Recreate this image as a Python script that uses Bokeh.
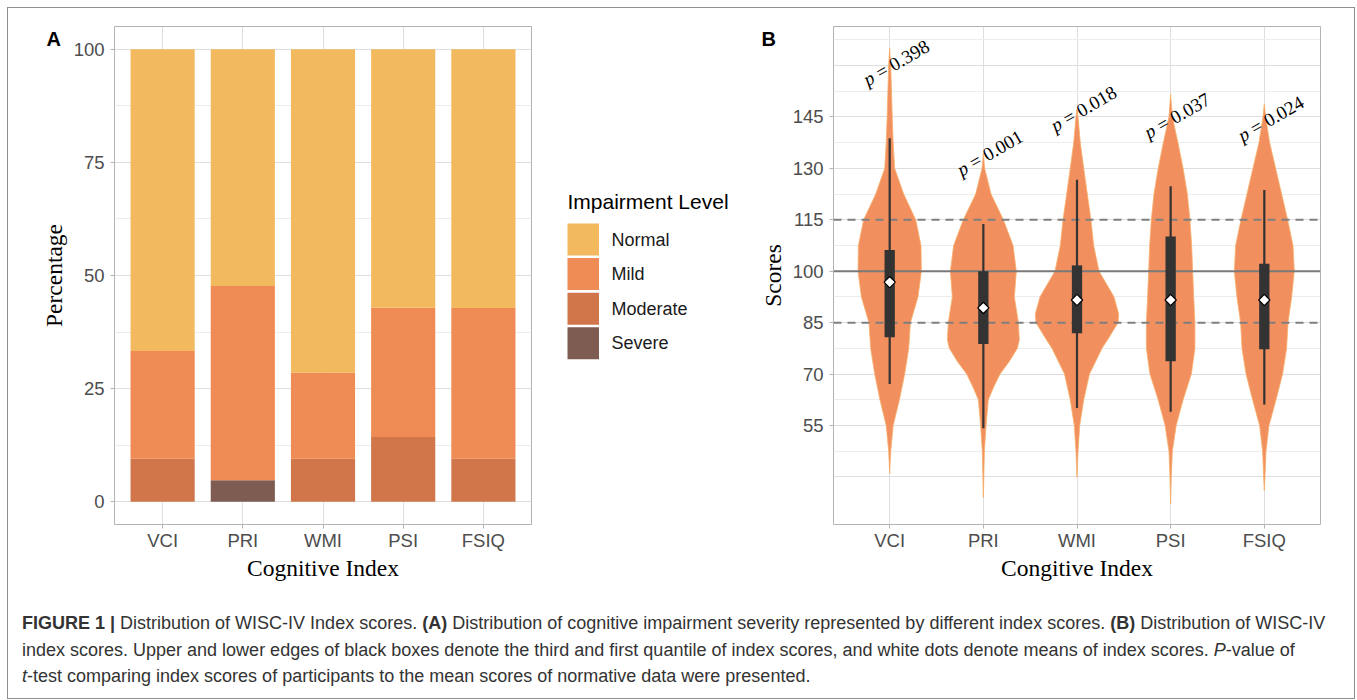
import math
from bokeh.plotting import figure
from bokeh.models import Range1d, FixedTicker, Div
from bokeh.layouts import row, column
from bokeh.embed import file_html
from bokeh.resources import INLINE
from bokeh.core.properties import value

# ---------------- data ----------------
indices = ["VCI", "PRI", "WMI", "PSI", "FSIQ"]
positions = [1, 2, 3, 4, 5]

# Panel A: percentage of participants per impairment level
pct_severe = [0.0, 4.8, 0.0, 0.0, 0.0]
pct_moderate = [9.5, 0.0, 9.5, 14.3, 9.5]
pct_mild = [23.8, 42.9, 19.0, 28.6, 33.3]
pct_normal = [66.7, 52.3, 71.5, 57.1, 57.2]
level_names = ["Normal", "Mild", "Moderate", "Severe"]
level_colors = ["#F3B95F", "#EF8B54", "#D0764A", "#7E5C52"]
legend_title = "Impairment Level"

# Panel B: box summaries
whisker_lo = [67.1, 54.2, 60.1, 59.0, 61.1]
box_q1 = [80.7, 78.8, 81.9, 73.7, 77.2]
box_q3 = [106.2, 100.0, 101.7, 110.1, 102.2]
whisker_hi = [138.8, 113.8, 126.7, 124.8, 123.7]
score_means = [96.8, 89.3, 91.6, 91.6, 91.6]
p_values = ["0.398", "0.001", "0.018", "0.037", "0.024"]
p_label_y = [160.8, 134.5, 147.4, 145.4, 144.5]
norm_mean = 100
norm_band = [85, 115]

# Panel B: violin outlines (score level, half-width in category units)
vci_lv = [40.9, 47.5, 55, 62.5, 70, 77.5, 85, 92.5, 100, 107.5, 115, 122.5, 130, 137.5, 145, 152.5, 160, 165]
vci_hw = [0, .011, .037, .104, .16, .203, .221, .302, .338, .334, .278, .149, .053, .037, .027, .019, .011, 0]
pri_lv = [34, 40, 47.5, 55, 62.5, 66, 70, 73.7, 77.5, 80, 85, 92.5, 100, 107.5, 115, 122.5, 130, 134.3]
pri_hw = [0, .005, .011, .029, .053, .107, .178, .278, .363, .384, .374, .331, .352, .317, .214, .082, .014, 0]
wmi_lv = [39.9, 47.5, 55, 62.5, 70, 77.5, 80.5, 85, 87.5, 92.5, 95, 100, 107.5, 115, 122.5, 130, 137.5, 145, 147.4]
wmi_hw = [0, .011, .029, .072, .133, .267, .338, .438, .445, .395, .342, .235, .178, .149, .11, .072, .035, .011, 0]
psi_lv = [32.1, 40, 47.5, 55, 62.5, 70, 77.5, 85, 92.5, 100, 107.5, 115, 122.5, 130, 137.5, 145, 151.6]
psi_hw = [0, .007, .018, .059, .133, .221, .259, .259, .246, .235, .224, .206, .178, .133, .078, .018, 0]
fsiq_lv = [36, 40, 47.5, 55, 62.5, 70, 77.5, 85, 92.5, 100, 107.5, 115, 122.5, 130, 137.5, 145, 148.8]
fsiq_hw = [0, .007, .018, .05, .125, .195, .238, .253, .292, .32, .306, .249, .185, .121, .057, .014, 0]
violin_levels = [vci_lv, pri_lv, wmi_lv, psi_lv, fsiq_lv]
violin_halfwidths = [vci_hw, pri_hw, wmi_hw, psi_hw, fsiq_hw]

# ---------------- styling helpers ----------------
SANS = "Liberation Sans"
SERIF = "Liberation Serif"
TICK_COLOR = "#4D4D4D"
BORDER = "#B3B3B3"
GRID_MAJOR = "#DEDEDE"
GRID_MINOR = "#ECECEC"


def style(p, xlabel, ylabel):
    p.background_fill_color = "white"
    p.border_fill_color = "white"
    p.outline_line_color = BORDER
    p.outline_line_width = 1
    for ax in (p.xaxis[0], p.yaxis[0]):
        ax.axis_line_color = None
        ax.major_tick_line_color = BORDER
        ax.major_tick_out = 4
        ax.major_tick_in = 0
        ax.minor_tick_line_color = None
        ax.major_label_text_font = SANS
        ax.major_label_text_font_size = "18.5px"
        ax.major_label_text_color = TICK_COLOR
        ax.axis_label_text_font = SERIF
        ax.axis_label_text_font_size = "23.5px"
        ax.axis_label_text_font_style = "normal"
        ax.axis_label_text_color = "black"
    p.xaxis[0].axis_label = xlabel
    p.yaxis[0].axis_label = ylabel
    p.xaxis[0].major_label_standoff = 1
    p.xaxis[0].axis_label_standoff = 1
    p.yaxis[0].major_label_standoff = 6
    p.yaxis[0].axis_label_standoff = 4
    xt = FixedTicker(ticks=positions, minor_ticks=[])
    p.xaxis[0].ticker = xt
    p.xaxis[0].major_label_overrides = {k: v for k, v in zip(positions, indices)}
    p.xgrid[0].ticker = xt
    p.xgrid[0].grid_line_color = GRID_MAJOR
    p.ygrid[0].grid_line_color = GRID_MAJOR
    p.ygrid[0].minor_grid_line_color = GRID_MINOR


def panel_letter(p, letter, offset):
    p.title.text = letter
    p.title.align = "left"
    p.title.offset = offset
    p.title.standoff = -47
    p.title.vertical_align = "bottom"
    p.title.text_font = SANS
    p.title.text_font_style = "bold"
    p.title.text_font_size = "20px"
    p.title.text_color = "black"


H_TOP = 590
W_A = 524
W_L = 223
B_LEFT = 78
B_RIGHT = 34
W_B = B_LEFT + 487 + B_RIGHT

# ---------------- Panel A ----------------
pA = figure(width=W_A, height=H_TOP, x_range=Range1d(0.4, 5.6), y_range=Range1d(-5, 105),
            output_backend="svg", toolbar_location=None, title="A",
            min_border_left=106, min_border_right=1, min_border_top=18, min_border_bottom=74)
style(pA, "Cognitive Index", "Percentage")
panel_letter(pA, "A", -68)
pA.yaxis[0].ticker = FixedTicker(ticks=[0, 25, 50, 75, 100], minor_ticks=[])
pA.ygrid[0].ticker = FixedTicker(ticks=[0, 25, 50, 75, 100], minor_ticks=[12.5, 37.5, 62.5, 87.5])

dataA = {"x": positions, "Severe": pct_severe, "Moderate": pct_moderate,
         "Mild": pct_mild, "Normal": pct_normal}
stack_order = ["Severe", "Moderate", "Mild", "Normal"]
stack_colors = [level_colors[level_names.index(s)] for s in stack_order]
pA.vbar_stack(stack_order, x="x", width=0.8, source=dataA,
              fill_color=stack_colors, line_color=None)

# ---------------- Legend canvas (page-pixel coordinates, y down; frame aligned to 26..524) ----------------
L_X0 = 8 + W_A
pL = figure(width=W_L, height=H_TOP, x_range=Range1d(L_X0, L_X0 + W_L), y_range=Range1d(524, 26),
            output_backend="svg", toolbar_location=None,
            x_axis_location=None, y_axis_location=None,
            min_border_left=0, min_border_right=0, min_border_top=18, min_border_bottom=74)
pL.outline_line_color = None
pL.background_fill_color = "white"
pL.border_fill_color = "white"
for g in pL.grid:
    g.visible = False
key_x0, key_w, key_h, key_top0, key_pitch = 567, 31.5, 32, 223, 34.6
key_tops = [key_top0 + i * key_pitch for i in range(len(level_names))]
pL.quad(left=key_x0, right=key_x0 + key_w, top=key_tops,
        bottom=[t + key_h for t in key_tops], fill_color=level_colors, line_color=None)
pL.text(x=[key_x0 + key_w + 12.5] * len(level_names), y=[t + key_h / 2 for t in key_tops],
        text=level_names, text_font=value(SANS), text_font_size="18px", text_color="#1A1A1A",
        text_align="left", text_baseline="middle")
pL.text(x=[key_x0], y=[201], text=[legend_title], text_font=value(SANS), text_font_size="21px",
        text_color="black", text_align="left", text_baseline="middle")

# ---------------- Panel B ----------------
yB0, yB1 = 26.1, 171.4
pB = figure(width=W_B, height=H_TOP, x_range=Range1d(0.4, 5.6), y_range=Range1d(yB0, yB1),
            output_backend="svg", toolbar_location=None, title="B",
            min_border_left=B_LEFT, min_border_right=B_RIGHT, min_border_top=18, min_border_bottom=74)
style(pB, "Congitive Index", "Scores")
panel_letter(pB, "B", -72)
pB.yaxis[0].ticker = FixedTicker(ticks=[55, 70, 85, 100, 115, 130, 145], minor_ticks=[])
pB.ygrid[0].ticker = FixedTicker(ticks=[40, 55, 70, 85, 100, 115, 130, 145, 160],
                                 minor_ticks=[47.5, 62.5, 77.5, 92.5, 107.5, 122.5, 137.5, 152.5, 167.5])

vx, vy = [], []
for pos, lv, hw in zip(positions, violin_levels, violin_halfwidths):
    vx.append([pos + h for h in hw] + [pos - h for h in reversed(hw)])
    vy.append(list(lv) + list(reversed(lv)))
pB.patches(vx, vy, fill_color="#F28F5F", line_color="#F6AE6A", line_width=0.8)

pB.segment(x0=[0.4, 0.4], x1=[5.6, 5.6], y0=norm_band, y1=norm_band,
           line_color="#7F7F7F", line_width=2, line_dash="8 6")
pB.segment(x0=[0.4], x1=[5.6], y0=[norm_mean], y1=[norm_mean],
           line_color="#7A7A7A", line_width=2)

pB.segment(x0=positions, x1=positions, y0=whisker_lo, y1=whisker_hi,
           line_color="#333333", line_width=2.2)
pB.vbar(x=positions, width=0.11, bottom=box_q1, top=box_q3, fill_color="#333333", line_color=None)
pB.scatter(positions, score_means, marker="square", angle=math.pi / 4, size=8,
           fill_color="white", line_color="black", line_width=1.2)

# p-value labels: italic "p" followed by upright "= value", rotated 30 degrees
frame_w = W_B - B_LEFT - B_RIGHT
frame_h = H_TOP - 18 - 74
px_x = frame_w / 5.2
px_y = frame_h / (yB1 - yB0)
ang = math.radians(30)
fs = 19
w_total = 3.814 * fs
w_p = 0.75 * fs
cx = [pos + 0.07 for pos in positions]
d0 = -w_total / 2
d1 = d0 + w_p
p_x = [c + d0 * math.cos(ang) / px_x for c in cx]
p_y = [c + d0 * math.sin(ang) / px_y for c in p_label_y]
r_x = [c + d1 * math.cos(ang) / px_x for c in cx]
r_y = [c + d1 * math.sin(ang) / px_y for c in p_label_y]
pB.text(p_x, p_y, text=["p"] * 5, angle=ang, text_font=value(SERIF), text_font_size=f"{fs}px",
        text_font_style="italic", text_align="left", text_baseline="middle", text_color="black")
pB.text(r_x, r_y, text=["= " + v for v in p_values], angle=ang, text_font=value(SERIF),
        text_font_size=f"{fs}px", text_align="left", text_baseline="middle", text_color="black")

# ---------------- caption ----------------
caption = (
    "<div style=\"font-family:'Liberation Sans',Arial,sans-serif;font-size:18px;line-height:26.5px;"
    "color:#333333;white-space:nowrap;padding:12px 0 0 14px;\">"
    "<b>FIGURE 1 |</b> Distribution of WISC-IV Index scores. <b>(A)</b> Distribution of cognitive "
    "impairment severity represented by different index scores. <b>(B)</b> Distribution of WISC-IV<br>"
    "index scores. Upper and lower edges of black boxes denote the third and first quantile of index "
    "scores, and white dots denote means of index scores. <i>P</i>-value of<br>"
    "<i>t</i>-test comparing index scores of participants to the mean scores of normative data were presented."
    "</div>"
)
div = Div(text=caption, width=W_A + W_L + W_B, height=100, margin=(0, 0, 0, 0))

layout = column(row(pA, pL, pB), div, margin=(7, 0, 0, 7),
                styles={"border": "1px solid #8F8F8F"})
open("out.html", "w").write(file_html(layout, INLINE))
